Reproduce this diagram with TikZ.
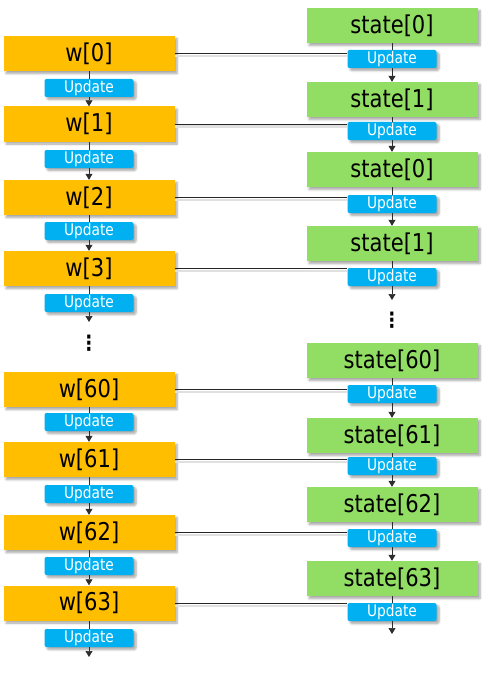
\documentclass[tikz,border=0pt]{standalone}
\usepackage{fontspec}
\setmainfont{DejaVu Sans}[FakeStretch=0.86]
\usepackage{xcolor}
\usepackage{tikz}
\usetikzlibrary{shadows.blur, arrows.meta}

\begin{document}
\begin{tikzpicture}[x=1pt, y=-1pt,
    sombra/.style={blur shadow={shadow xshift=2.5pt, shadow yshift=-2.5pt, shadow blur steps=6, shadow opacity=35}},
    wbox/.style={rectangle, fill=naranja, minimum width=171pt, minimum height=35pt, inner sep=0pt, font=\fontsize{24.5}{26}\selectfont, sombra},
    sbox/.style={rectangle, fill=verde, minimum width=171pt, minimum height=35pt, inner sep=0pt, font=\fontsize{24.5}{26}\selectfont, sombra},
    upd/.style={rectangle, rounded corners=2pt, fill=azul, text=white, minimum width=89pt, minimum height=18pt, inner sep=0pt, font=\fontsize{16}{17}\selectfont, sombra},
    flecha/.style={draw=gris, line width=0.7pt, -{Triangle[width=7pt,length=6pt]}},
    linea/.style={draw=gris, line width=0.7pt},
    enlace/.style={draw=black!85, line width=0.7pt, preaction={draw=black!12, line width=2pt, transform canvas={yshift=-2.5pt}}},
    puntos/.style={font=\fontsize{21}{21}\selectfont\bfseries, inner sep=0pt}]
  \definecolor{naranja}{RGB}{255,190,0}
  \definecolor{verde}{RGB}{146,221,99}
  \definecolor{azul}{RGB}{0,176,240}
  \definecolor{gris}{RGB}{45,45,45}

  \useasboundingbox (0,0) rectangle (487,674);

  % columna izquierda
  \node[wbox] (w0)  at (89,53.5)  {w[0]};
  \node[upd]  (uw0) at (89,88)    {Update};
  \node[wbox] (w1)  at (89,124)   {w[1]};
  \node[upd]  (uw1) at (89,159)   {Update};
  \node[wbox] (w2)  at (89,197.5) {w[2]};
  \node[upd]  (uw2) at (89,231)   {Update};
  \node[wbox] (w3)  at (89,268.5) {w[3]};
  \node[upd]  (uw3) at (89,303)   {Update};
  \node[puntos] (pw) at (89,343)  {⋮};
  \node[wbox] (w60)  at (89,389.5) {w[60]};
  \node[upd]  (uw60) at (89,422)   {Update};
  \node[wbox] (w61)  at (89,459.5) {w[61]};
  \node[upd]  (uw61) at (89,494)   {Update};
  \node[wbox] (w62)  at (89,532.5) {w[62]};
  \node[upd]  (uw62) at (89,566)   {Update};
  \node[wbox] (w63)  at (89,603)   {w[63]};
  \node[upd]  (uw63) at (89,638)   {Update};
  \coordinate (fw3)  at (89,322);
  \coordinate (fw63) at (89,657);

  % columna derecha
  \node[sbox] (s0)  at (392,25.5)  {state[0]};
  \node[upd]  (us0) at (392,59)    {Update};
  \node[sbox] (s1)  at (392,99.5)  {state[1]};
  \node[upd]  (us1) at (392,131)   {Update};
  \node[sbox] (s2)  at (392,169.5) {state[0]};
  \node[upd]  (us2) at (392,204)   {Update};
  \node[sbox] (s3)  at (392,243.5) {state[1]};
  \node[upd]  (us3) at (392,277)   {Update};
  \node[puntos] (ps) at (392,320)  {⋮};
  \node[sbox] (s60)  at (392,360.5) {state[60]};
  \node[upd]  (us60) at (392,394)   {Update};
  \node[sbox] (s61)  at (392,435.5) {state[61]};
  \node[upd]  (us61) at (392,466)   {Update};
  \node[sbox] (s62)  at (392,504.5) {state[62]};
  \node[upd]  (us62) at (392,538)   {Update};
  \node[sbox] (s63)  at (392,578.5) {state[63]};
  \node[upd]  (us63) at (392,612)   {Update};
  \coordinate (fs3)  at (392,300);
  \coordinate (fs63) at (392,634);

  % flechas izquierda
  \draw[linea]  (w0) -- (uw0);
  \draw[flecha] (uw0) -- (w1);
  \draw[linea]  (w1) -- (uw1);
  \draw[flecha] (uw1) -- (w2);
  \draw[linea]  (w2) -- (uw2);
  \draw[flecha] (uw2) -- (w3);
  \draw[linea]  (w3) -- (uw3);
  \draw[flecha] (uw3) -- (fw3);
  \draw[linea]  (w60) -- (uw60);
  \draw[flecha] (uw60) -- (w61);
  \draw[linea]  (w61) -- (uw61);
  \draw[flecha] (uw61) -- (w62);
  \draw[linea]  (w62) -- (uw62);
  \draw[flecha] (uw62) -- (w63);
  \draw[linea]  (w63) -- (uw63);
  \draw[flecha] (uw63) -- (fw63);

  % flechas derecha
  \draw[linea]  (s0) -- (us0);
  \draw[flecha] (us0) -- (s1);
  \draw[linea]  (s1) -- (us1);
  \draw[flecha] (us1) -- (s2);
  \draw[linea]  (s2) -- (us2);
  \draw[flecha] (us2) -- (s3);
  \draw[linea]  (s3) -- (us3);
  \draw[flecha] (us3) -- (fs3);
  \draw[linea]  (s60) -- (us60);
  \draw[flecha] (us60) -- (s61);
  \draw[linea]  (s61) -- (us61);
  \draw[flecha] (us61) -- (s62);
  \draw[linea]  (s62) -- (us62);
  \draw[flecha] (us62) -- (s63);
  \draw[linea]  (s63) -- (us63);
  \draw[flecha] (us63) -- (fs63);

  % enlaces w -> update
  \draw[enlace] (w0.east)  -- (w0.east  -| us0.west);
  \draw[enlace] (w1.east)  -- (w1.east  -| us1.west);
  \draw[enlace] (w2.east)  -- (w2.east  -| us2.west);
  \draw[enlace] (w3.east)  -- (w3.east  -| us3.west);
  \draw[enlace] (w60.east) -- (w60.east -| us60.west);
  \draw[enlace] (w61.east) -- (w61.east -| us61.west);
  \draw[enlace] (w62.east) -- (w62.east -| us62.west);
  \draw[enlace] (w63.east) -- (w63.east -| us63.west);
\end{tikzpicture}
\end{document}
